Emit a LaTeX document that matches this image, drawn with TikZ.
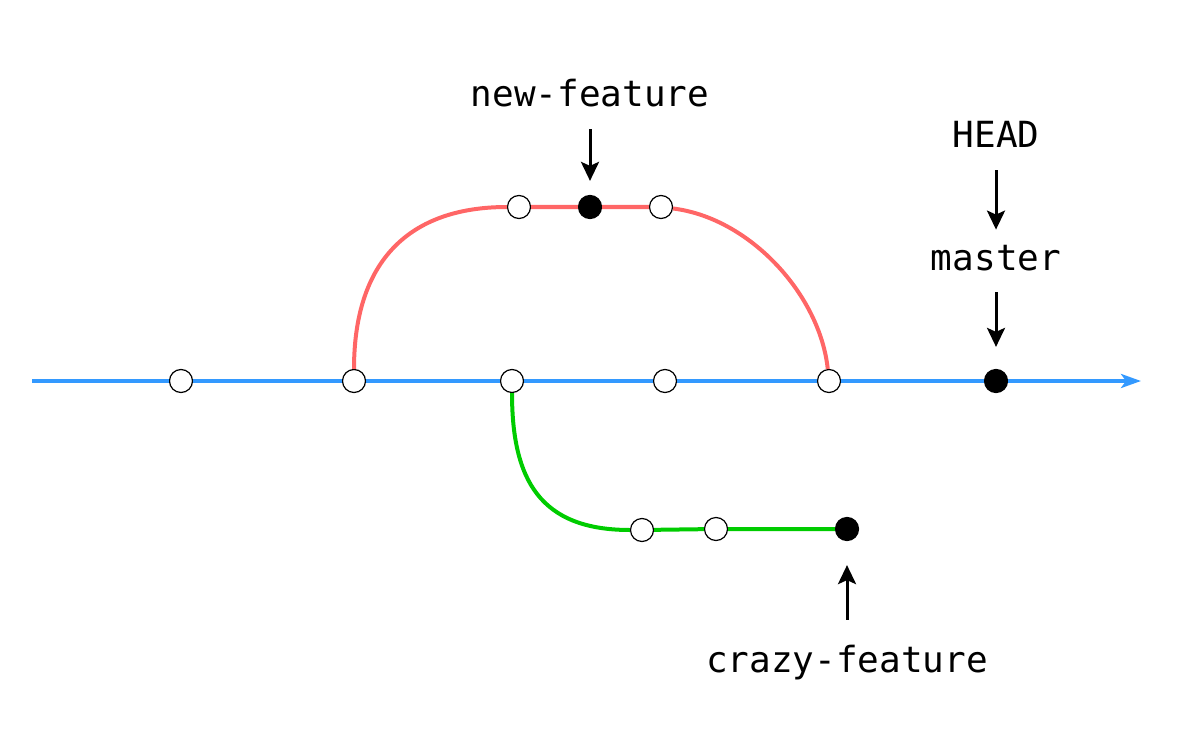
\documentclass[tikz,border=0pt]{standalone}
\usepackage{fontspec}
\setmonofont{DejaVu Sans Mono}
\usetikzlibrary{arrows.meta}
\definecolor{mainblue}{HTML}{3399FF}
\definecolor{featred}{HTML}{FF6666}
\definecolor{crazygreen}{HTML}{00CC00}
\begin{document}
\begin{tikzpicture}[x=0.5pt,y=-0.5pt,
	commit/.style={circle,draw,line width=0.6pt,fill=white,minimum size=11.5pt,inner sep=0pt},
	headcommit/.style={commit,fill=black},
	branch/.style={line width=2pt},
	reflabel/.style={font=\ttfamily\fontsize{18}{22}\selectfont,inner sep=0pt,text height=13pt,text depth=4pt,anchor=base},
	ptr/.style={line width=1.5pt,-{Stealth[length=9.5pt,width=9pt,inset=2pt]},shorten <=7pt,shorten >=7pt}]
	\useasboundingbox (0,0) rectangle (1181,754);
	\coordinate (start) at (32,381);
	\coordinate (end) at (1141,381);
	\node[commit] (m1) at (181,381) {};
	\node[commit] (m2) at (354,381) {};
	\node[commit] (m3) at (512,381) {};
	\node[commit] (m4) at (665,381) {};
	\node[commit] (m5) at (829,381) {};
	\node[headcommit] (m6) at (996,381) {};
	\node[commit] (n1) at (519,207) {};
	\node[headcommit] (n2) at (590,207) {};
	\node[commit] (n3) at (661,207) {};
	\node[commit] (c1) at (642,530) {};
	\node[commit] (c2) at (716,529) {};
	\node[headcommit] (c3) at (847,529) {};
	\draw[branch,mainblue,-{Stealth[length=10pt,width=7pt,inset=2.5pt]}] (start) -- (m1) -- (m2) -- (m3) -- (m4) -- (m5) -- (m6) -- (end);
	\draw[branch,featred] (m2) .. controls (354,260) and (410,207) .. (n1) -- (n2) -- (n3) .. controls (750,218) and (820,295) .. (m5);
	\draw[branch,crazygreen] (m3) .. controls (512,480) and (540,530) .. (c1) -- (c2) -- (c3);
	\node[reflabel] (newlbl) at (590,107) {new-feature};
	\node[reflabel] (headlbl) at (996,148) {HEAD};
	\node[reflabel] (masterlbl) at (996,270) {master};
	\node[reflabel] (crazylbl) at (847,672) {crazy-feature};
	\draw[ptr] (newlbl) -- (n2);
	\draw[ptr] (headlbl) -- (masterlbl);
	\draw[ptr,shorten >=11pt] (masterlbl) -- (m6);
	\draw[ptr,shorten <=13pt,shorten >=12pt] (crazylbl) -- (c3);
\end{tikzpicture}
\end{document}
